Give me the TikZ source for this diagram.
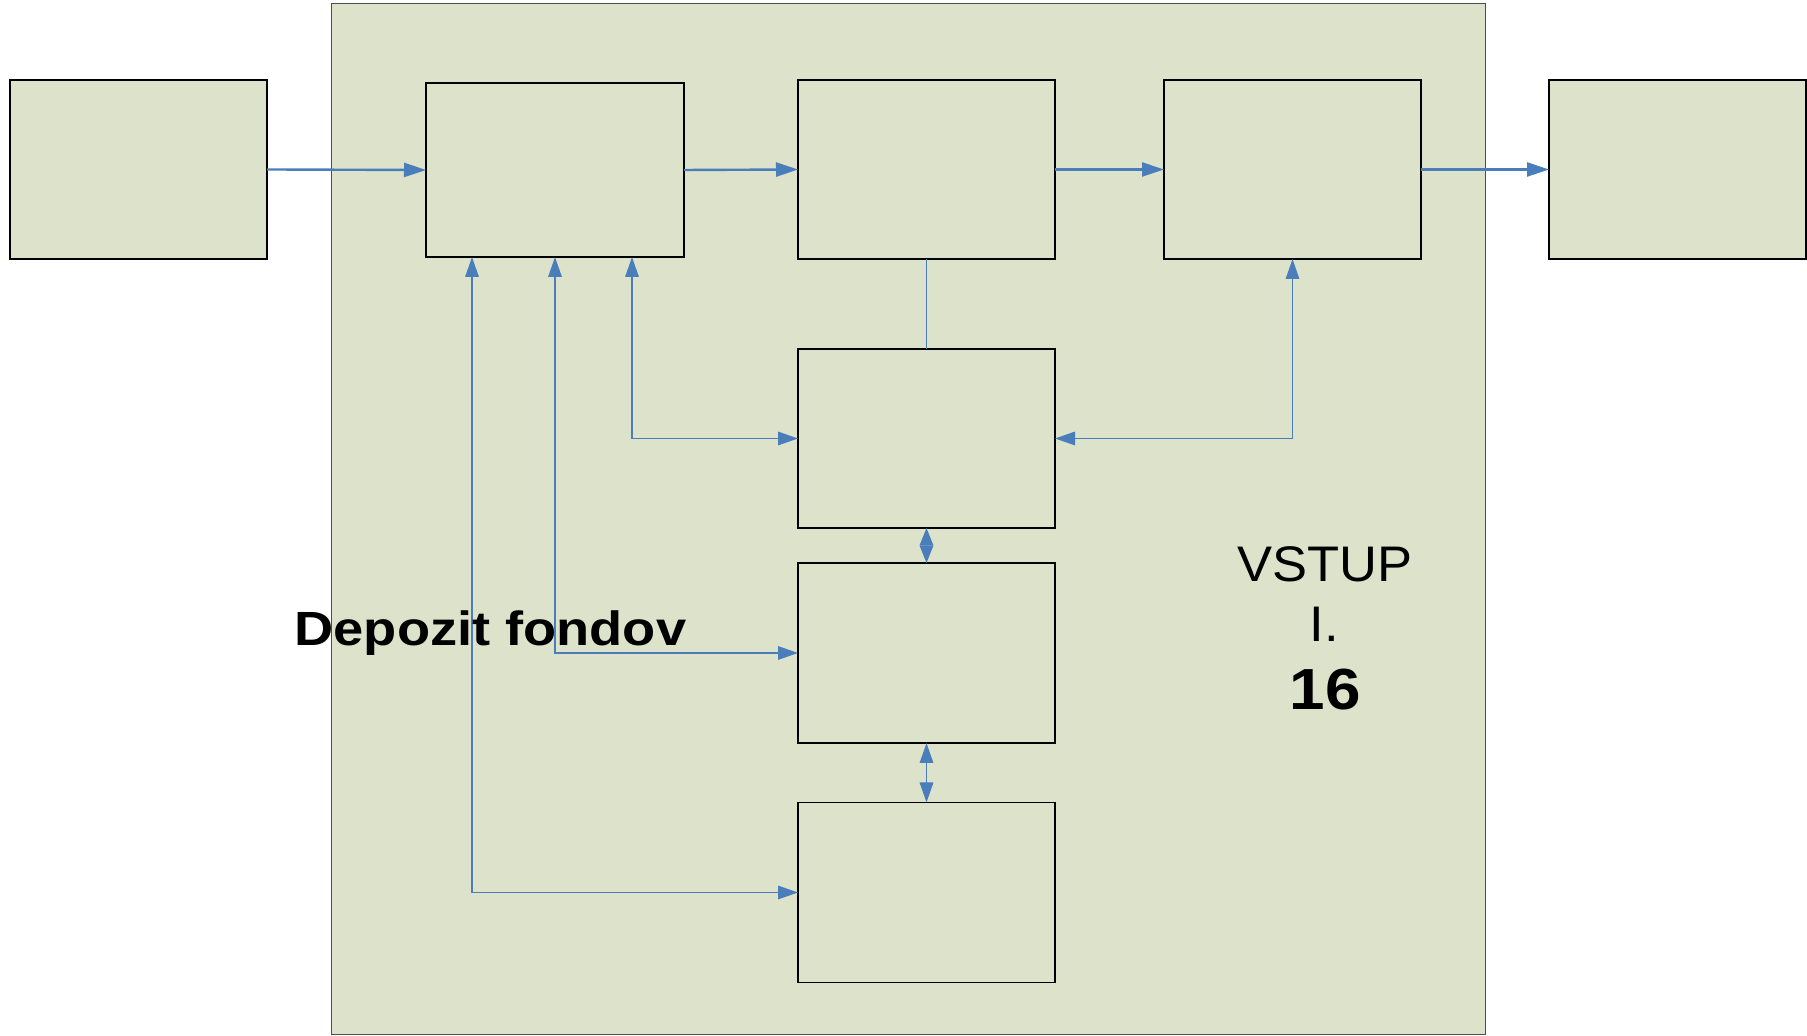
\documentclass[tikz,border=0pt]{standalone}
\usepackage{fontspec}
\setmainfont{Liberation Sans}
\usetikzlibrary{arrows.meta,calc}
\definecolor{boxfill}{RGB}{221,226,203}
\definecolor{linkblue}{HTML}{4A7EBB}
\begin{document}
\begin{tikzpicture}[x=1pt,y=1pt,
  box/.style={draw=black,line width=1.1pt,fill=boxfill,minimum width=257pt,minimum height=179pt,inner sep=0pt,outer sep=0pt},
  arr/.style={draw=linkblue,line width=2.4pt,-{Triangle[length=22pt,width=14pt]}},
  darr/.style={draw=linkblue,line width=1.6pt,{Triangle[length=20pt,width=13.5pt]}-{Triangle[length=20pt,width=13.5pt]}},
  plainline/.style={draw=linkblue,line width=1.6pt}]
\useasboundingbox (0,0) rectangle (1807,1036);
% big background rectangle
\node[draw=black!70,line width=1pt,fill=boxfill,minimum width=1154pt,minimum height=1031pt,inner sep=0pt,anchor=south west] (big) at (331,0.5) {};
% boxes
\node[box] (L) at (138.5,866.5) {};
\node[box,minimum width=258pt,minimum height=174pt] (A) at (555,866) {};
\node[box] (B) at (926.5,866.5) {};
\node[box] (D) at (1292.5,866.5) {};
\node[box] (E) at (1677.5,866.5) {};
\node[box] (C) at (926.5,597.5) {};
\node[box,minimum height=180pt] (F) at (926.5,383) {};
\node[box,minimum height=180pt] (G) at (926.5,143.5) {};
% attachment points under A
\coordinate (A1) at ($(A.south)+(-83,0)$);
\coordinate (A3) at ($(A.south)+(77,0)$);
% connectors
\draw[arr] (L.east) -- (A.west);
\draw[arr] (A.east) -- (B.west);
\draw[arr] (B.east) -- (D.west);
\draw[arr] (D.east) -- (E.west);
\draw[plainline] (B.south) -- (C.north);
\draw[darr] (A3) |- (C.west);
\draw[darr] (D.south) |- (C.east);
\draw[darr] (A.south) |- (F.west);
\draw[darr] (A1) |- (G.west);
\draw[draw=linkblue,line width=1.6pt,{Triangle[length=17.5pt,width=13.5pt]}-{Triangle[length=17.5pt,width=13.5pt]}] (C.south) -- (F.north);
\draw[darr] (F.south) -- (G.north);
% texts
\node[anchor=base west,inner sep=0pt,xscale=1.13,font=\fontsize{48}{52}\selectfont\bfseries] (dep) at (294.4,390) {Depozit fondov};
\node[anchor=base,inner sep=0pt,xscale=1.05,font=\fontsize{50}{54}\selectfont] (vst) at (1325,454.3) {VSTUP};
\node[anchor=base,inner sep=0pt,xscale=1.05,font=\fontsize{50}{54}\selectfont] (rom) at (1324,394.3) {I.};
\node[anchor=base,inner sep=0pt,xscale=1.1,font=\fontsize{58}{62}\selectfont\bfseries] (num) at (1325,326) {16};
\end{tikzpicture}
\end{document}
